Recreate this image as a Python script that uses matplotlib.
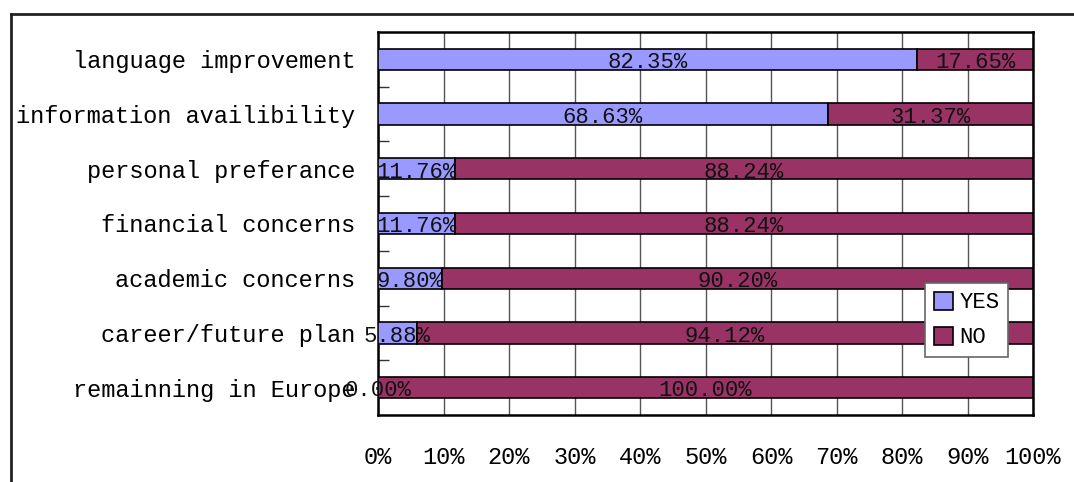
import numpy as np
import matplotlib
matplotlib.use("Agg")
import matplotlib.pyplot as plt
from matplotlib.lines import Line2D
from matplotlib.ticker import FixedLocator

plt.rcParams["font.family"] = ["Liberation Mono", "DejaVu Sans Mono"]

categories = [
    "language improvement",
    "information availibility",
    "personal preferance",
    "financial concerns",
    "academic concerns",
    "career/future plan",
    "remainning in Europe",
]
yes_pct = [82.35, 68.63, 11.76, 11.76, 9.80, 5.88, 0.00]
no_pct = [17.65, 31.37, 88.24, 88.24, 90.20, 94.12, 100.00]
x_ticks = [0, 10, 20, 30, 40, 50, 60, 70, 80, 90, 100]

YES_COLOR = "#9999FF"
NO_COLOR = "#993366"

W, H = 1074, 482
fig = plt.figure(figsize=(W / 100, H / 100), dpi=100)
ax = fig.add_axes([378 / W, 1 - 415 / H, (1033 - 378) / W, (415 - 32) / H])

y = np.arange(len(categories))
bh = 0.39
ax.barh(y, yes_pct, height=bh, color=YES_COLOR, edgecolor="black",
        linewidth=1.2, label="YES", zorder=3)
ax.barh(y, no_pct, left=yes_pct, height=bh, color=NO_COLOR,
        edgecolor="black", linewidth=1.2, label="NO", zorder=3)

# percentage labels centred in each segment
for i, (a, b) in enumerate(zip(yes_pct, no_pct)):
    ax.text(a / 2, i + 0.06, f"{a:.2f}%", ha="center", va="center",
            fontsize=16, color="#111111", zorder=5)
    ax.text(a + b / 2, i + 0.06, f"{b:.2f}%", ha="center", va="center",
            fontsize=16, color="#111111", zorder=5)

ax.set_xlim(0, 100)
ax.set_ylim(len(categories) - 0.5, -0.5)
ax.set_xticks(x_ticks)
ax.set_xticklabels([f"{t}%" for t in x_ticks])
ax.set_yticks(y)
ax.set_yticklabels(categories)
ax.yaxis.set_minor_locator(FixedLocator(np.arange(0.5, len(categories) - 1, 1)))

ax.tick_params(axis="x", length=0, pad=22, labelsize=17)
ax.tick_params(axis="y", which="major", length=0, pad=16.5, labelsize=17)
ax.tick_params(axis="y", which="minor", length=8, width=1, direction="in",
               color="#333333")

ax.grid(axis="x", color="#555555", linewidth=1, zorder=0)
ax.set_axisbelow(True)
for s in ax.spines.values():
    s.set_linewidth(1.8)
    s.set_color("black")

leg = ax.legend(loc="upper left", bbox_to_anchor=(925 / W, 1 - 283 / H),
                bbox_transform=fig.transFigure, fontsize=16,
                handlelength=0.85, handleheight=0.85, handletextpad=0.3,
                labelspacing=0.6, borderpad=0.4, borderaxespad=0,
                fancybox=False, framealpha=1, edgecolor="#666666")
leg.get_frame().set_linewidth(1.2)
leg.set_zorder(6)

# outer frame (top and left only)
fig.add_artist(Line2D([11 / W, 1], [1 - 14 / H, 1 - 14 / H],
                      transform=fig.transFigure, color="#222222", lw=2))
fig.add_artist(Line2D([11 / W, 11 / W], [1 - 14 / H, 0],
                      transform=fig.transFigure, color="#222222", lw=2))

fig.savefig("out.png", dpi=100)
